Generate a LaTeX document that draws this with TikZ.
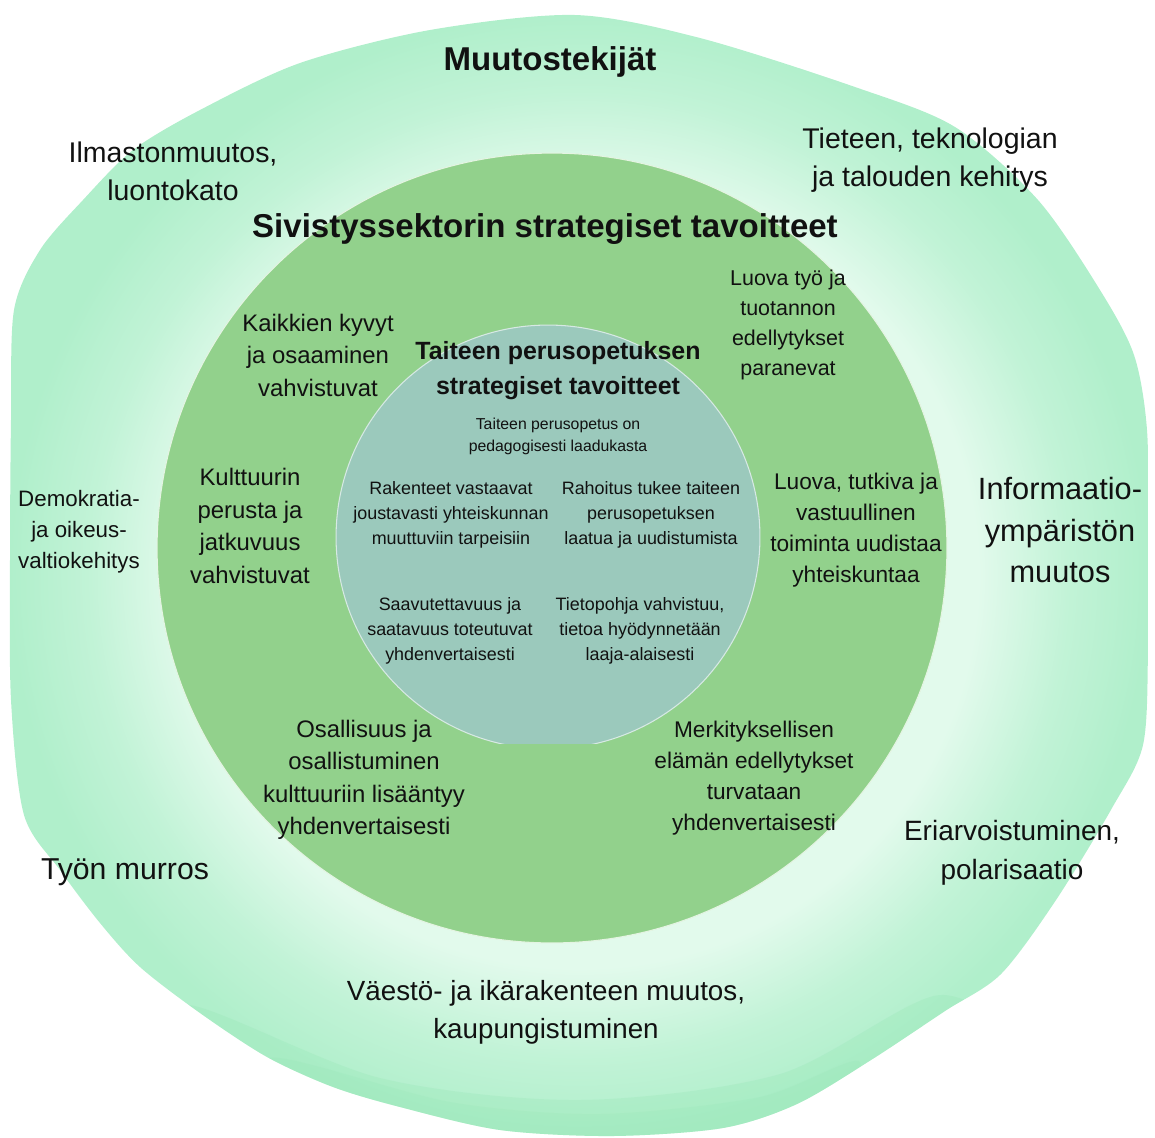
\documentclass[tikz,border=0pt]{standalone}
\usepackage{fontspec}
\setmainfont{Liberation Sans}
\usetikzlibrary{positioning}

\definecolor{minttu}{HTML}{B0EFCB}
\definecolor{vaaleaminttu}{HTML}{E2FAEC}
\definecolor{tummaminttu}{HTML}{8DE3AE}
\definecolor{ruoho}{HTML}{92D18C}
\definecolor{sinivihrea}{HTML}{9BC9BC}
\definecolor{teksti}{HTML}{111111}

\pgfdeclareradialshading{vesivari}{\pgfpoint{0bp}{0bp}}{%
  color(0bp)=(vaaleaminttu); color(17.5bp)=(vaaleaminttu);
  color(21.5bp)=(minttu!65!vaaleaminttu); color(25bp)=(minttu);
  color(50bp)=(minttu)}

\newcommand{\ulkolaikku}{plot[smooth cycle] coordinates {
  (575,15) (700,38) (855,87) (955,127) (1038,200) (1100,290) (1134,355)
  (1147,430) (1148,540) (1148,650) (1143,745) (1112,808) (1056,900)
  (1001,974) (945,1011) (871,1060) (797,1104) (723,1128) (612,1136)
  (500,1130) (400,1107) (333,1087) (267,1057) (200,1013) (140,967)
  (100,923) (60,870) (24,815) (11,700) (10,560) (11,420) (14,310)
  (40,250) (83,200) (133,150) (200,110) (300,63) (430,30)}}

\tikzstyle{otsikko} = [
  font=\bfseries\fontsize{18.8}{22}\selectfont,
  text=teksti,
  align=center,
  inner sep=0pt
]
\tikzstyle{tekija} = [
  font=\fontsize{16.2}{21.6}\selectfont,
  text=teksti,
  align=center,
  inner sep=0pt
]
\tikzstyle{tavoite} = [
  font=\fontsize{13.6}{18.5}\selectfont,
  text=teksti,
  align=center,
  inner sep=0pt
]
\tikzstyle{alatavoite} = [
  font=\fontsize{10.2}{14.2}\selectfont,
  text=teksti,
  align=center,
  inner sep=0pt
]

\begin{document}
\begin{tikzpicture}[x=0.02cm, y=-0.02cm]
    \useasboundingbox (0,0) rectangle (1155,1137);

    % Ulompi vesivarilaikku
    \shade[shading=vesivari] \ulkolaikku;
    \begin{scope}
      \clip \ulkolaikku;
      \fill[tummaminttu, opacity=0.22]
        plot[smooth cycle] coordinates {(190,1005) (380,1078) (580,1100)
          (780,1074) (940,995) (1010,1060) (820,1170) (560,1190) (300,1150)
          (140,1040)};
      \fill[tummaminttu, opacity=0.15]
        plot[smooth cycle] coordinates {(270,1058) (450,1102) (600,1114)
          (760,1097) (860,1062) (800,1160) (560,1175) (330,1140)};
    \end{scope}

    % Sivistyssektorin kiekko
    \fill[ruoho] (552,548) circle[radius=7.9cm];
    \draw[white!75!ruoho, line width=0.6pt] (552,548) circle[radius=7.9cm];

    % Taiteen perusopetuksen kiekko
    \begin{scope}
      \clip (0,323) rectangle (1155,743);
      \fill[sinivihrea] (548,537) circle[radius=4.24cm];
      \draw[white!60!sinivihrea, line width=0.6pt] (548,537) circle[radius=4.24cm];
    \end{scope}

    % Muutostekijat
    \node (muutos) [otsikko] at (550,62) {Muutostekijät};
    \node (ilmasto) [tekija] at (173,171) {Ilmastonmuutos,\\luontokato};
    \node (tiede) [tekija] at (930,160) {Tieteen, teknologian\\ja talouden kehitys};
    \node (demokratia) [tekija, font=\fontsize{12.7}{17.6}\selectfont] at (79,532)
      {Demokratia-\\ja oikeus-\\valtiokehitys};
    \node (informaatio) [tekija, font=\fontsize{17.5}{23.9}\selectfont] at (1060,530)
      {Informaatio-\\ympäristön\\muutos};
    \node (tyo) [tekija, font=\fontsize{17.2}{22}\selectfont] at (125,872) {Työn murros};
    \node (eriarvo) [tekija, font=\fontsize{15.9}{22.2}\selectfont] at (1012,853)
      {Eriarvoistuminen,\\polarisaatio};
    \node (vaesto) [tekija, font=\fontsize{15.8}{21.6}\selectfont] at (546,1012)
      {Väestö- ja ikärakenteen muutos,\\kaupungistuminen};

    % Sivistyssektorin tavoitteet
    \node (sivistys) [otsikko] at (545,229) {Sivistyssektorin strategiset tavoitteet};
    \node (kyvyt) [tavoite] at (318,355) {Kaikkien kyvyt\\ja osaaminen\\vahvistuvat};
    \node (luovatyo) [tavoite, font=\fontsize{12.2}{17.1}\selectfont] at (788,325)
      {Luova työ ja\\tuotannon\\edellytykset\\paranevat};
    \node (kulttuuri) [tavoite] at (250,526)
      {Kulttuurin\\perusta ja\\jatkuvuus\\vahvistuvat};
    \node (luova) [tavoite, font=\fontsize{12.9}{17.6}\selectfont] at (856,530)
      {Luova, tutkiva ja\\vastuullinen\\toiminta uudistaa\\yhteiskuntaa};
    \node (osallisuus) [tavoite] at (364,780)
      {Osallisuus ja\\osallistuminen\\kulttuuriin lisääntyy\\yhdenvertaisesti};
    \node (elama) [tavoite, font=\fontsize{12.9}{17.6}\selectfont] at (754,778)
      {Merkityksellisen\\elämän edellytykset\\turvataan\\yhdenvertaisesti};

    % Taiteen perusopetuksen tavoitteet
    \node (tpo) [otsikko, font=\bfseries\fontsize{14.2}{19.9}\selectfont] at (558,371)
      {Taiteen perusopetuksen\\strategiset tavoitteet};
    \node (laatu) [alatavoite, font=\fontsize{9}{12.5}\selectfont, below=0.34cm of tpo]
      {Taiteen perusopetus on\\pedagogisesti laadukasta};
    \node (rakenteet) [alatavoite] at (451,515)
      {Rakenteet vastaavat\\joustavasti yhteiskunnan\\muuttuviin tarpeisiin};
    \node (rahoitus) [alatavoite] at (651,515)
      {Rahoitus tukee taiteen\\perusopetuksen\\laatua ja uudistumista};
    \node (saavutettavuus) [alatavoite] at (450,631)
      {Saavutettavuus ja\\saatavuus toteutuvat\\yhdenvertaisesti};
    \node (tietopohja) [alatavoite] at (640,631)
      {Tietopohja vahvistuu,\\tietoa hyödynnetään\\laaja-alaisesti};

\end{tikzpicture}
\end{document}
